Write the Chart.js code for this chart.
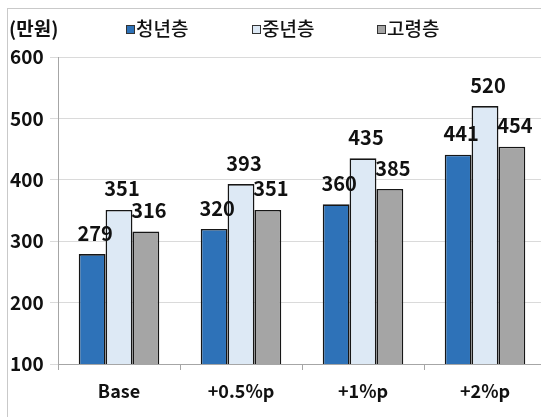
<!DOCTYPE html>
<html>
<head>
<meta charset="utf-8">
<script src="https://cdn.jsdelivr.net/npm/chart.js@4/dist/chart.umd.min.js"></script>
<style>
  html, body { margin: 0; padding: 0; background: #fff; overflow: hidden; }
  #frame { position: absolute; left: 7px; top: 8px; width: 600px; height: 500px; border: 1px solid #c9c9c9; }
  #wrap { position: absolute; left: 0; top: 0; width: 552px; height: 417px; }
</style>
</head>
<body>
<div id="frame"></div>
<div id="wrap"><canvas id="bar-graph"></canvas></div>
<script>
const categories = ['Base', '+0.5%p', '+1%p', '+2%p'];
const youth = [279, 320, 360, 441];
const middle = [351, 393, 435, 520];
const elderly = [316, 351, 385, 454];
const seriesNames = ['청년층', '중년층', '고령층'];
const yTicks = [100, 200, 300, 400, 500, 600];

const FONT = '"Noto Sans CJK KR", "Noto Sans", sans-serif';

// value labels over each bar
const valueLabels = {
  id: 'valueLabels',
  afterDatasetsDraw(chart) {
    const ctx = chart.ctx;
    ctx.save();
    ctx.font = 'bold 20px ' + FONT;
    ctx.fillStyle = '#111';
    ctx.textAlign = 'center';
    ctx.textBaseline = 'middle';
    chart.data.datasets.forEach((ds, i) => {
      chart.getDatasetMeta(i).data.forEach((bar, j) => {
        ctx.fillText(ds.data[j], bar.x + 3, bar.y - 21);
      });
    });
    ctx.restore();
  }
};

// unit text and legend row across the top
const topRow = {
  id: 'topRow',
  afterDraw(chart) {
    const ctx = chart.ctx;
    ctx.save();
    ctx.textBaseline = 'middle';
    ctx.fillStyle = '#111';
    ctx.font = 'bold 19px ' + FONT;
    ctx.textAlign = 'left';
    ctx.fillText('(만원)', 9, 29);

    const xs = [126, 252, 377];
    ctx.font = '500 19px ' + FONT;
    chart.data.datasets.forEach((ds, i) => {
      ctx.fillStyle = ds.backgroundColor;
      ctx.fillRect(xs[i], 25, 9, 9);
      ctx.strokeStyle = '#333';
      ctx.lineWidth = 1;
      ctx.strokeRect(xs[i] + 0.5, 25.5, 8, 8);
      ctx.fillStyle = '#111';
      ctx.fillText(ds.label, xs[i] + 10, 29);
    });
    ctx.restore();
  }
};

const ctx = document.getElementById('bar-graph').getContext('2d');

const chart = new Chart(ctx, {
  type: 'bar',
  data: {
    labels: categories,
    datasets: [{
      label: seriesNames[0],
      backgroundColor: '#2e72b8',
      data: youth,
    }, {
      label: seriesNames[1],
      backgroundColor: '#dde9f5',
      data: middle,
    }, {
      label: seriesNames[2],
      backgroundColor: '#a5a5a5',
      data: elderly,
    }]
  },
  options: {
    responsive: true,
    maintainAspectRatio: false,
    animation: false,
    layout: { padding: { left: 10, top: 57, right: 6, bottom: 0 } },
    datasets: {
      bar: {
        borderColor: '#161616',
        borderWidth: 1.6,
        barPercentage: 1,
        categoryPercentage: 0.66,
      }
    },
    plugins: {
      legend: { display: false },
      tooltip: { enabled: false },
    },
    scales: {
      x: {
        grid: { drawOnChartArea: false, drawTicks: true, tickLength: 6, color: '#a6a6a6', offset: true },
        border: { color: '#a6a6a6' },
        ticks: { color: '#111', font: { family: FONT, size: 18, weight: 'bold' }, padding: 10 },
        afterFit(scale) { scale.height = 53; },
      },
      y: {
        min: 100,
        max: 600,
        afterBuildTicks(scale) { scale.ticks = yTicks.map(v => ({ value: v })); },
        grid: { color: '#dadada', tickLength: 8 },
        border: { color: '#a6a6a6' },
        ticks: { color: '#111', crossAlign: 'far', font: { family: FONT, size: 19, weight: 'bold' } },
        afterFit(scale) { scale.width = 48; },
      }
    }
  },
  plugins: [valueLabels, topRow]
});
</script>
</body>
</html>
